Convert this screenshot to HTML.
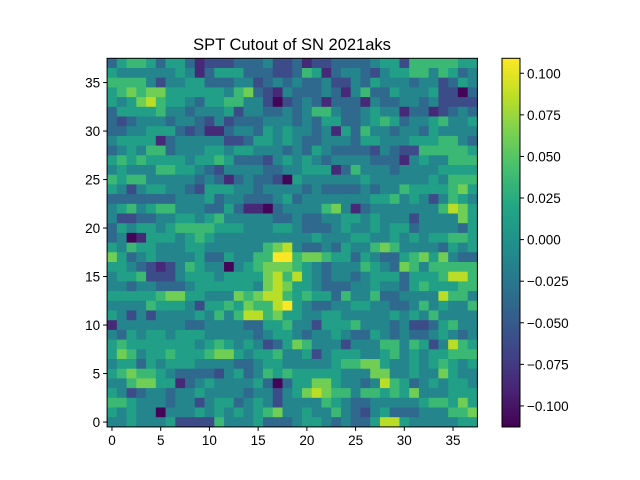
<!DOCTYPE html>
<html><head><meta charset="utf-8"><style>
body{margin:0;background:#fff}
svg{display:block;font-family:"Liberation Sans","DejaVu Sans",sans-serif}
</style></head><body>
<svg id="c" width="640" height="480" viewBox="0 0 640 480"></svg>
<script>
// Cell intensity levels (0..9), one string per image row, from row 37 (top) to row 0 (bottom)
const levelRows = [
"3566535531222333422"+"3122333345526666655",
"5444444541355533322"+"3651344324556646534",
"6666424455333442343"+"4334224354443442354",
"5676775555554673214"+"3334314633544452203",
"5457865543556644202"+"3431333143344342222",
"3555564434445244334"+"3466433454413312343",
"3234443443242333444"+"3435533456534456445",
"3344555323113443545"+"4434153644344354444",
"4555513444442235545"+"4334443554445556643",
"3454663444554554443"+"4354333324322666665",
"5656555545565333245"+"4543444433314544666",
"4544466554324444334"+"4555136444344445555",
"6566444443431343320"+"5444444544444454666",
"5424554432555443444"+"4343333434465555675",
"3333333444534433345"+"3444444455645424654",
"4564566444335311034"+"4446741344444446875",
"4223344554564444433"+"4334455454442444475",
"3545545666655544455"+"4333454454553444435",
"3401555456544444444"+"4454445544545455665",
"5465544455444444678"+"4334354467644443545",
"7534544445335446699"+"6776553543356757433",
"5543212465440456777"+"6543444654376466666",
"4556222455545555786"+"8543443455535556886",
"4434433345555554787"+"5543334454435655566",
"5555567755444767886"+"5655364463344448664",
"4444655542556576689"+"5433445544334645446",
"5424244445464688675"+"5445544444545464444",
"1444444433444433556"+"4425556444342235644",
"4354554555444443455"+"4344543354343345434",
"5655555554565454235"+"7644424446646524865",
"5764556555677545564"+"4524555445645455666",
"4553545554444334554"+"4444566775445456545",
"5676654333324534656"+"5555544477445447544",
"4467755134544445303"+"5577544348653454554",
"5423443445444434424"+"5787664665657444555",
"6654443442455345424"+"4446543344444566575",
"5454404445454545674"+"4544643245333444667",
"4454445222264445333"+"4554343358854444455"
];
const vmin = -0.1126, vmax = 0.109;
const levelStep = 0.0245, levelBase = -0.11;
const xTicks = [0,5,10,15,20,25,30,35];
const yTicks = [0,5,10,15,20,25,30,35];
const cbTicks = [-0.100,-0.075,-0.050,-0.025,0.000,0.025,0.050,0.075,0.100];

const vir=[[68,1,84],[72,35,116],[64,67,135],[52,94,141],[41,120,142],[32,144,140],[34,167,132],[68,190,112],[121,209,81],[189,223,38],[253,231,37]];
function cmap(t){t=Math.max(0,Math.min(1,t));const p=t*10,i=Math.min(9,Math.floor(p)),f=p-i;const a=vir[i],b=vir[i+1];return `rgb(${a.map((v,k)=>Math.round(v+(b[k]-v)*f)).join(',')})`;}
const NS="http://www.w3.org/2000/svg",svg=document.getElementById('c');
function mk(t,at,parent){const e=document.createElementNS(NS,t);for(const k in at)e.setAttribute(k,at[k]);(parent||svg).appendChild(e);return e;}
const N=38, L=107.1, R=477.4, T=58.3, B=426.9;
const sx=v=>L+(v+0.5)*(R-L)/N, sy=v=>B-(v+0.5)*(B-T)/N;
const cw=(R-L)/N, ch=(B-T)/N;
const g=mk('g',{});


for(let r=0;r<N;r++){const s=levelRows[r]||'';const yv=N-1-r;
 for(let c=0;c<N;c++){const lv=+(s[c]||4);const val=levelBase+lv*levelStep;
  const e=mk('rect',{x:(sx(c)-cw/2).toFixed(2),y:(sy(yv)-ch/2).toFixed(2),width:(cw+0.4).toFixed(2),height:(ch+0.4).toFixed(2),fill:cmap((val-vmin)/(vmax-vmin))},g);
  
  
 }}
const fr=mk('rect',{x:L,y:T,width:R-L,height:B-T,fill:'none',stroke:'#000','stroke-width':1});


xTicks.forEach(v=>{const x=sx(v);mk('line',{x1:x,x2:x,y1:B,y2:B+4,stroke:'#000'});
 const t=mk('text',{x:x,y:B+18,'text-anchor':'middle','font-size':13.5});t.textContent=v;
 
 });
yTicks.forEach(v=>{const y=sy(v);mk('line',{x1:L-4,x2:L,y1:y,y2:y,stroke:'#000'});
 const t=mk('text',{x:L-7,y:y+5,'text-anchor':'end','font-size':13.5});t.textContent=v;
 
 });
const ti=mk('text',{x:292,y:50,'text-anchor':'middle','font-size':16.5});ti.textContent='SPT Cutout of SN 2021aks';


// colorbar
const CL=502,CR=520,CT=58.3,CB=426.9;
const cy=v=>CB-(v-vmin)/(vmax-vmin)*(CB-CT);
const cbg=mk('g',{});


for(let i=0;i<120;i++){const h=(CB-CT)/120;mk('rect',{x:CL,y:CB-(i+1)*h,width:CR-CL,height:h+0.5,fill:cmap((i+0.5)/120)},cbg);}
mk('rect',{x:CL,y:CT,width:CR-CL,height:CB-CT,fill:'none',stroke:'#000'},cbg);
cbTicks.forEach(v=>{const y=cy(v);mk('line',{x1:CR,x2:CR+4,y1:y,y2:y,stroke:'#000'});
 const t=mk('text',{x:CR+7,y:y+5,'font-size':13.5});t.textContent=(v<0?'\u2212':'')+Math.abs(v).toFixed(3);
 
 });
</script>
</body></html>
